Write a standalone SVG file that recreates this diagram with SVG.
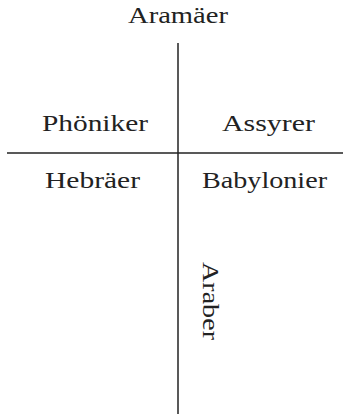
<svg xmlns="http://www.w3.org/2000/svg" width="343" height="414" viewBox="0 0 343 414">
<style>
.t{font-family:"Liberation Serif","Times New Roman",serif;font-size:23px;fill:#222;}
.l{stroke:#222;stroke-width:1.5;fill:none;}
</style>
<rect width="343" height="414" fill="#fff"/>
<g id="connectors">
<line class="l" x1="178" y1="43" x2="178" y2="414"/>
<line class="l" x1="7" y1="153" x2="343" y2="153"/>
</g>
<g id="aramaeer"><text class="t" x="128" y="23" textLength="100" lengthAdjust="spacingAndGlyphs">Aramäer</text></g>
<g id="phoeniker"><text class="t" x="42" y="131" textLength="106" lengthAdjust="spacingAndGlyphs">Phöniker</text></g>
<g id="assyrer"><text class="t" x="222" y="131" textLength="93" lengthAdjust="spacingAndGlyphs">Assyrer</text></g>
<g id="hebraeer"><text class="t" x="45" y="188" textLength="95" lengthAdjust="spacingAndGlyphs">Hebräer</text></g>
<g id="babylonier"><text class="t" x="202" y="188" textLength="125" lengthAdjust="spacingAndGlyphs">Babylonier</text></g>
<g id="araber"><text class="t" transform="translate(203,262) rotate(90)" x="0" y="0" textLength="78" lengthAdjust="spacingAndGlyphs">Araber</text></g>
</svg>
